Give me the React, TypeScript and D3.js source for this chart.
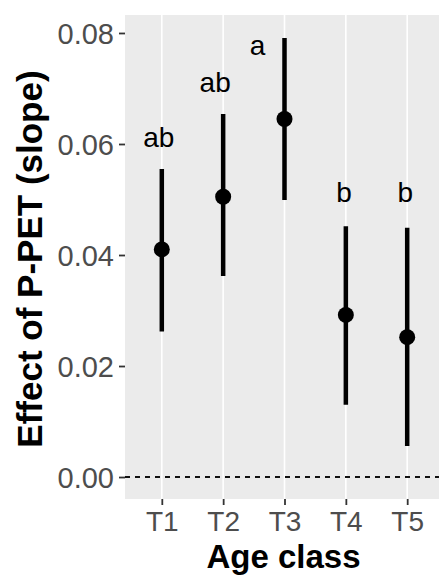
import * as d3 from "d3";
import { useEffect, useRef } from "react";

// age classes and estimated slopes (mean, lower, upper of interval)
const classes = ["T1", "T2", "T3", "T4", "T5"];
const slope = [0.041, 0.0505, 0.0645, 0.0292, 0.0252];
const lower = [0.0262, 0.0362, 0.0499, 0.013, 0.0056];
const upper = [0.0555, 0.0654, 0.0791, 0.0452, 0.0449];

// significance letters, their height (data units) and sideways nudge (category steps)
const letters = ["ab", "ab", "a", "b", "b"];
const letterY = [0.0595, 0.0694, 0.076, 0.0495, 0.0495];
const letterNudge = [-0.05, -0.13, -0.44, -0.03, -0.03];

const yTicks = [0, 0.02, 0.04, 0.06, 0.08];

const font = "'Liberation Sans', Arial, Helvetica, sans-serif";

export default function App() {
  const svgRef = useRef<SVGSVGElement>(null);

  const width = 439;
  const height = 577;
  const panel = { left: 125, right: 444, top: 15, bottom: 499 };

  useEffect(() => {
    const svg = d3.select(svgRef.current);
    svg.selectAll("*").remove();

    //scales
    const x = d3
      .scalePoint()
      .domain(classes)
      .range([panel.left, panel.right])
      .padding(0.6);
    const y = d3
      .scaleLinear()
      .domain([-0.00396, 0.08324])
      .range([panel.bottom, panel.top]);

    const data = classes.map((c, i) => ({
      c,
      mean: slope[i],
      lo: lower[i],
      hi: upper[i],
      letter: letters[i],
      ly: letterY[i],
      nudge: letterNudge[i],
    }));

    //panel background
    svg
      .append("rect")
      .attr("x", panel.left)
      .attr("y", panel.top)
      .attr("width", panel.right - panel.left)
      .attr("height", panel.bottom - panel.top)
      .attr("fill", "#ebebeb");

    //vertical grid
    svg
      .append("g")
      .selectAll("line")
      .data(classes)
      .join("line")
      .attr("x1", (d) => x(d)!)
      .attr("x2", (d) => x(d)!)
      .attr("y1", panel.top)
      .attr("y2", panel.bottom)
      .attr("stroke", "white")
      .attr("stroke-width", 1.6);

    //zero line
    svg
      .append("line")
      .attr("x1", panel.left)
      .attr("x2", panel.right)
      .attr("y1", y(0))
      .attr("y2", y(0))
      .attr("stroke", "#111")
      .attr("stroke-width", 2)
      .attr("stroke-dasharray", "5,5");

    //axes
    const yAxis = d3
      .axisLeft(y)
      .tickValues(yTicks)
      .tickFormat(d3.format(".2f"))
      .tickSize(6)
      .tickPadding(5);
    const gy = svg
      .append("g")
      .attr("transform", `translate(${panel.left},0)`)
      .call(yAxis);
    gy.select(".domain").remove();
    gy.selectAll("line").attr("stroke", "#333333").attr("stroke-width", 1.8);
    gy.selectAll("text")
      .attr("fill", "#4d4d4d")
      .attr("font-size", 29)
      .attr("font-family", font)
      .attr("dy", "0.36em");

    const xAxis = d3.axisBottom(x).tickSize(6).tickPadding(3);
    const gx = svg
      .append("g")
      .attr("transform", `translate(0,${panel.bottom})`)
      .call(xAxis);
    gx.select(".domain").remove();
    gx.selectAll("line").attr("stroke", "#333333").attr("stroke-width", 1.8);
    gx.selectAll("text")
      .attr("fill", "#4d4d4d")
      .attr("font-size", 28)
      .attr("font-family", font)
      .attr("dy", "0.82em");

    //error bars
    svg
      .append("g")
      .selectAll("line")
      .data(data)
      .join("line")
      .attr("x1", (d) => x(d.c)!)
      .attr("x2", (d) => x(d.c)!)
      .attr("y1", (d) => y(d.lo))
      .attr("y2", (d) => y(d.hi))
      .attr("stroke", "black")
      .attr("stroke-width", 4.5);

    svg
      .append("g")
      .selectAll("circle")
      .data(data)
      .join("circle")
      .attr("cx", (d) => x(d.c)!)
      .attr("cy", (d) => y(d.mean))
      .attr("r", 8)
      .attr("fill", "black");

    //letters
    svg
      .append("g")
      .selectAll("text")
      .data(data)
      .join("text")
      .attr("x", (d) => x(d.c)! + d.nudge * x.step())
      .attr("y", (d) => y(d.ly))
      .attr("text-anchor", "middle")
      .attr("font-size", 28)
      .attr("font-family", font)
      .attr("fill", "black")
      .text((d) => d.letter);

    //axis titles
    svg
      .append("text")
      .attr("x", (panel.left + panel.right) / 2 - 1)
      .attr("y", 568)
      .attr("text-anchor", "middle")
      .attr("font-size", 33)
      .attr("font-weight", "bold")
      .attr("font-family", font)
      .text("Age class");

    svg
      .append("text")
      .attr("transform", `translate(42,259) rotate(-90)`)
      .attr("text-anchor", "middle")
      .attr("font-size", 35)
      .attr("font-weight", "bold")
      .attr("font-family", font)
      .text("Effect of P-PET (slope)");
  }, []);

  return (
    <svg
      ref={svgRef}
      width={width}
      height={height}
      style={{ position: "absolute", left: 0, top: 0, background: "white" }}
    ></svg>
  );
}
